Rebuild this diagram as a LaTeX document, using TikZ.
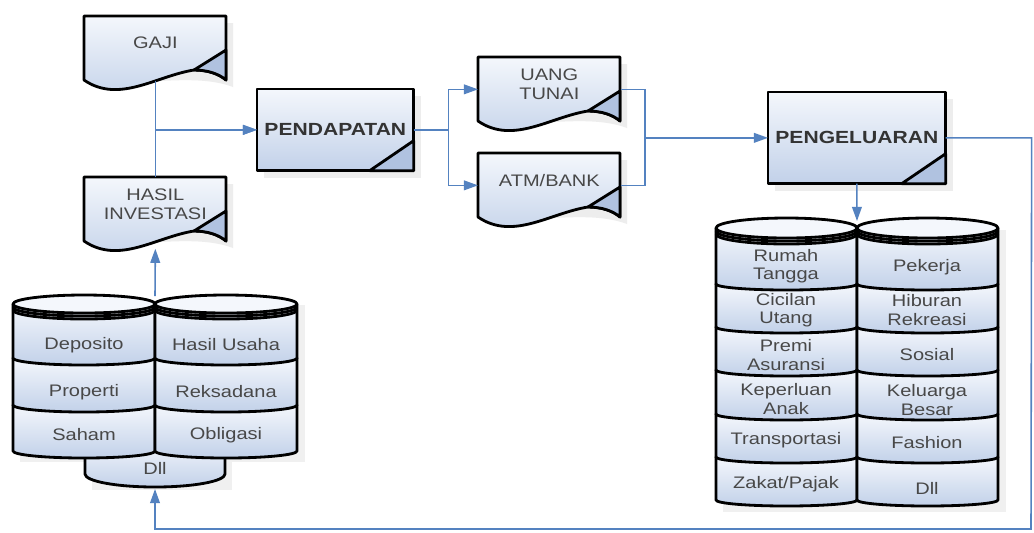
\documentclass[tikz,border=0pt]{standalone}
\usepackage{fontspec}
\setmainfont{Liberation Sans}[FakeStretch=1.2]
\usetikzlibrary{arrows.meta,backgrounds}

\definecolor{linkblue}{RGB}{84,130,192}
\definecolor{filltop}{RGB}{244,247,252}
\definecolor{fillbot}{RGB}{194,209,233}
\definecolor{foldfill}{RGB}{176,194,224}
\definecolor{labelgray}{RGB}{72,72,72}

\tikzset{
  outline/.style={draw=black,line width=1.6pt,line join=round},
  shaded/.style={outline,top color=filltop,bottom color=fillbot},
  ghost/.style={fill=black!7},
  lbl/.style={font=\fontsize{9.5}{10.5}\selectfont,text=labelgray,align=center,inner sep=0pt},
  docbox/.style={lbl,anchor=north west,minimum width=2.84cm,minimum height=1.28cm,text depth=6pt},
  procbox/.style={lbl,anchor=north west,font=\fontsize{10}{11}\selectfont\bfseries,text=black!80},
  link/.style={draw=linkblue,line width=0.9pt},
  flow/.style={link,-{Triangle[length=8pt,width=5.5pt]}}
}

\newcommand\docshape[1]{%
  \begin{scope}[shift={(#1.north west)}]
    \path[ghost] (7,7) -- (149,7) -- (149,71) .. controls (120,60) and (80,64) .. (7,71) -- cycle;
    \path[shaded] (0,0) -- (142,0) -- (142,64) .. controls (135,58) and (124,54) .. (110,54) .. controls (72,60) and (35,88) .. (0,64) -- cycle;
    \path[outline,fill=foldfill] (110,54) -- (142,34) -- (142,64) .. controls (135,58) and (124,54) .. (110,54) -- cycle;
  \end{scope}}

\newcommand\procshape[1]{%
  \path[ghost] ([shift={(7,7)}]#1.north west) rectangle ([shift={(7,7)}]#1.south east);
  \path[shaded] (#1.north west) rectangle (#1.south east);
  \path[outline,fill=foldfill] (#1.south east) -- ++(0,-30) -- ++(-44,30) -- cycle;}

\newcommand\cylcol[6]{%
  \foreach \yt/\yb in {#5}
    \path[shaded] (#1,\yt) -- (#1,\yb) arc[start angle=180,end angle=0,x radius=#2/2,y radius=#6] -- ({#1+#2},\yt) -- cycle;
  \path[outline,fill=filltop] ({#1+#2/2},#3) ellipse[x radius=#2/2,y radius=#4];
  \foreach \dy in {3,6}
    \draw[outline] (#1,#3+\dy) arc[start angle=180,end angle=0,x radius=#2/2,y radius=#4];}

\begin{document}
\begin{tikzpicture}[x=0.02cm,y=-0.02cm]
\useasboundingbox (0,0) rectangle (1034,532);
\node[docbox] (gaji) at (84,16) {GAJI};
\node[docbox] (hasil) at (84,177) {HASIL\\INVESTASI};
\node[docbox] (uang) at (478,57) {UANG\\TUNAI};
\node[docbox] (atm) at (478,153) {ATM/BANK};
\node[procbox,minimum width=3.12cm,minimum height=1.62cm] (pendapatan) at (257,89) {PENDAPATAN};
\node[procbox,minimum width=3.54cm,minimum height=1.82cm] (pengeluaran) at (768,92) {PENGELUARAN};
\foreach \txt/\yy/\nm in {Deposito/345/deposito,Properti/392/properti,Saham/435/saham}
  \node[lbl] (\nm) at (84,\yy) {\txt};
\foreach \txt/\yy/\nm in {Hasil Usaha/345/usaha,Reksadana/392/reksadana,Obligasi/435/obligasi}
  \node[lbl] (\nm) at (226,\yy) {\txt};
\node[lbl] (dllin) at (155,468) {Dll};
\foreach \txt/\yy/\nm in {{Rumah\\Tangga}/266/rumah,{Cicilan\\Utang}/310/cicilan,{Premi\\Asuransi}/355/premi,{Keperluan\\Anak}/399/keperluan,Transportasi/440/transport,{Zakat/Pajak}/484/zakat}
  \node[lbl] (\nm) at (786,\yy) {\txt};
\foreach \txt/\yy/\nm in {Pekerja/267/pekerja,{Hiburan\\Rekreasi}/310/hiburan,Sosial/355/sosial,{Keluarga\\Besar}/400/keluarga,Fashion/443/fashion,Dll/488/dllout}
  \node[lbl] (\nm) at (927,\yy) {\txt};

\begin{scope}[on background layer]
  \fill[white] (0,0) rectangle (1034,532);
  \fill[black!6] (20,305) rectangle (305,462);
  \fill[black!6] (92,455) rectangle (232,490);
  \fill[black!6] (723,230) rectangle (1006,512);
  \docshape{gaji}
  \docshape{hasil}
  \docshape{uang}
  \docshape{atm}
  \procshape{pendapatan}
  \procshape{pengeluaran}
  \path[shaded] (85,440) -- (85,474) arc[start angle=180,end angle=0,x radius=70,y radius=13] -- (225,440) -- cycle;
  \cylcol{13}{142}{304}{9}{405/451,358/405,304/358}{7}
  \cylcol{155}{142}{304}{9}{405/451,358/405,304/358}{7}
  \cylcol{716}{141}{228}{10}{457/500,414/457,370/414,327/370,284/327,228/284}{6}
  \cylcol{857}{141}{228}{10}{457/500,414/457,370/414,327/370,284/327,228/284}{6}
\end{scope}

\coordinate (split) at ([xshift=0.7cm]pendapatan.east);
\coordinate (merge) at ([xshift=-2.46cm]pengeluaran.west);
\coordinate (invtop) at (155,296);
\coordinate (outtop) at (857,221);
\coordinate (loopne) at ([xshift=1.72cm]pengeluaran.east);
\coordinate (loopse) at (1031,529);
\coordinate (dllbot) at (155,489);
\draw[flow] (gaji.south) |- (pendapatan.west);
\draw[flow] (hasil.north) |- (pendapatan.west);
\draw[flow] (invtop) -- ([yshift=-4pt]hasil.south);
\draw[flow] (pendapatan.east) -- (split) |- (uang.west);
\draw[flow] (split) |- (atm.west);
\draw[link] (uang.east) -| (merge);
\draw[link] (atm.east) -| (merge);
\draw[flow] (merge) -- (pengeluaran.west);
\draw[flow] (pengeluaran.south) -- (outtop);
\draw[flow] (pengeluaran.east) -- (loopne) -- (loopse) -| (dllbot);
\end{tikzpicture}
\end{document}
